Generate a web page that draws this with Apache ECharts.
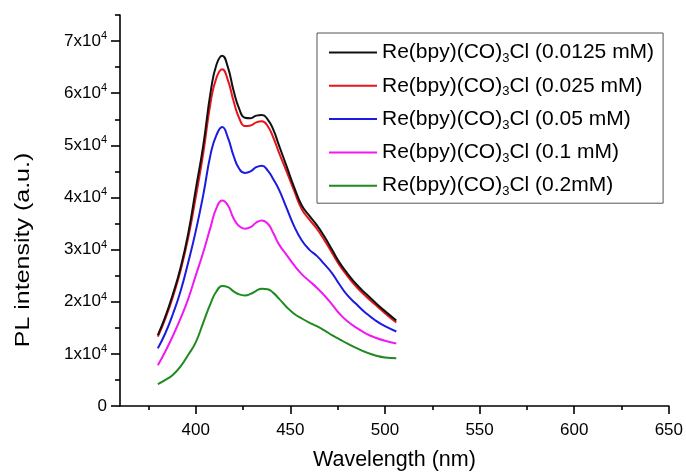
<!DOCTYPE html>
<html>
<head>
<meta charset="utf-8">
<script src="https://cdn.jsdelivr.net/npm/echarts@6/dist/echarts.min.js"></script>
<style>html,body{margin:0;padding:0;background:#fff}#c{width:686px;height:476px}</style>
</head>
<body>
<div id="c"></div>
<script>
// Wavelength (nm)
const wavelengths = [380,384,388,392,396,400,404,408,411,414,417,420,423,426,429,432,435,438,441,444,448,452,456,460,464,468,472,476,480,485,490,495,500,506];
// PL intensity (a.u.)
const s0125 = [13600,17200,21500,26500,33000,41500,50000,60500,65500,67200,65000,60500,57000,55300,55200,55700,55800,55000,53000,50000,46000,42000,38500,36500,34700,32500,30000,27500,25500,23300,21500,19800,18200,16400];
const s025  = [13300,16800,21000,26000,32200,40000,48500,58500,63000,64600,62500,58500,55200,53700,53800,54400,54600,53700,51500,48600,45000,41300,37800,35800,34000,31800,29400,27000,25000,22800,21000,19400,17800,16000];
const s05   = [11050,14000,17700,22000,27500,33500,40500,48500,52000,53500,51500,48000,45500,44700,45000,45800,46100,45200,43500,41500,38000,34500,31800,30000,28800,27200,25500,23300,21300,19500,17800,16400,15300,14300];
const s1    = [7800,10500,13500,16800,20500,25000,29500,34500,38000,39400,38500,36000,34500,34000,34300,35200,35600,35000,33200,31000,29000,27000,25300,24000,22700,21200,19500,17700,16300,15000,13900,13100,12500,12000];
const s2    = [4200,5000,6000,7600,9800,12200,16000,19800,22000,23000,22800,22000,21400,21200,21500,22100,22500,22400,21700,20600,19000,17700,16800,16000,15300,14500,13600,12800,12000,11100,10300,9700,9300,9150];
const seriesNames = ['0.0125 mM','0.025 mM','0.05 mM','0.1 mM','0.2mM'];
const seriesData = [s0125, s025, s05, s1, s2];
const seriesColors = ['#111111','#e8141a','#1a1ae0','#f01af0','#1f8a1f'];
const xMajorTicks = [400,450,500,550,600,650];
const xMinorTicks = [375,425,475,525,575,625];
const yMajorTicks = [0,10000,20000,30000,40000,50000,60000,70000];
const yMinorTicks = [5000,15000,25000,35000,45000,55000,65000,75000];
const xTitle = 'Wavelength (nm)';
const yTitle = 'PL intensity (a.u.)';

const FONT = '"Liberation Sans", Arial, sans-serif';
const chart = echarts.init(document.getElementById('c'), null, {renderer:'canvas'});

const series = seriesData.map((d, i) => ({
  name: 'Re(bpy)(CO)3Cl (' + seriesNames[i] + ')',
  type: 'line',
  xAxisIndex: 0, yAxisIndex: 0,
  data: wavelengths.map((w, k) => [w, d[k]]),
  smooth: 0.5,
  symbol: 'none',
  lineStyle: {color: seriesColors[i], width: 2},
  itemStyle: {color: seriesColors[i]},
  z: 10 - i
}));

const axisLineStyle = {show: true, lineStyle: {color: '#000', width: 1.6}};

chart.setOption({
  animation: false,
  backgroundColor: '#fff',
  grid: {left: 120, right: 17, top: 15, bottom: 67, containLabel: false},
  legend: {
    orient: 'vertical',
    left: 317, top: 33,
    padding: [9, 9, 5, 12],
    itemGap: 10.3,
    icon: 'rect',
    itemWidth: 48, itemHeight: 2,
    borderColor: '#555', borderWidth: 1,
    backgroundColor: '#fff',
    data: series.map(s => s.name),
    formatter: function (name) {
      return name.replace('(CO)3Cl', '(CO){sub|3}Cl');
    },
    textStyle: {
      fontFamily: FONT, fontSize: 21, color: '#000',
      rich: {sub: {fontFamily: FONT, fontSize: 13, color: '#000', padding: [12,0,0,0]}}
    }
  },
  graphic: [{
    type: 'text',
    x: 23, y: 250,
    rotation: Math.PI / 2,
    scaleX: 1.25,
    style: {text: yTitle, fontFamily: FONT, fontSize: 20, fill: '#000', align: 'center', verticalAlign: 'middle'}
  }],
  xAxis: [{
    type: 'value', min: 360, max: 650, position: 'bottom',
    name: xTitle, nameLocation: 'middle', nameGap: 43,
    nameTextStyle: {fontFamily: FONT, fontSize: 21.5, color: '#000'},
    axisLine: axisLineStyle,
    splitLine: {show: false},
    axisTick: {show: true, inside: false, length: 8, customValues: xMajorTicks, lineStyle: {color: '#000', width: 1.6}},
    axisLabel: {customValues: xMajorTicks, fontFamily: FONT, fontSize: 17, color: '#000', margin: 16}
  }, {
    type: 'value', min: 360, max: 650, position: 'bottom',
    axisLine: {show: false}, splitLine: {show: false},
    axisTick: {show: true, inside: false, length: 4, customValues: xMinorTicks, lineStyle: {color: '#000', width: 1.6}},
    axisLabel: {show: false}
  }],
  yAxis: [{
    type: 'value', min: 0, max: 75000, position: 'left',
    axisLine: axisLineStyle,
    splitLine: {show: false},
    axisTick: {show: true, inside: false, length: 9, customValues: yMajorTicks, lineStyle: {color: '#000', width: 1.6}},
    axisLabel: {
      customValues: yMajorTicks, margin: 13, color: '#000',
      formatter: function (v) { return v === 0 ? '{m|0}' : '{m|' + (v / 10000) + 'x10}{s|4}'; },
      rich: {
        m: {fontFamily: FONT, fontSize: 17, color: '#000'},
        s: {fontFamily: FONT, fontSize: 11, color: '#000', padding: [0,0,10,0]}
      }
    }
  }, {
    type: 'value', min: 0, max: 75000, position: 'left',
    axisLine: {show: false}, splitLine: {show: false},
    axisTick: {show: true, inside: false, length: 5, customValues: yMinorTicks, lineStyle: {color: '#000', width: 1.6}},
    axisLabel: {show: false}
  }],
  series: series
});
</script>
</body>
</html>
